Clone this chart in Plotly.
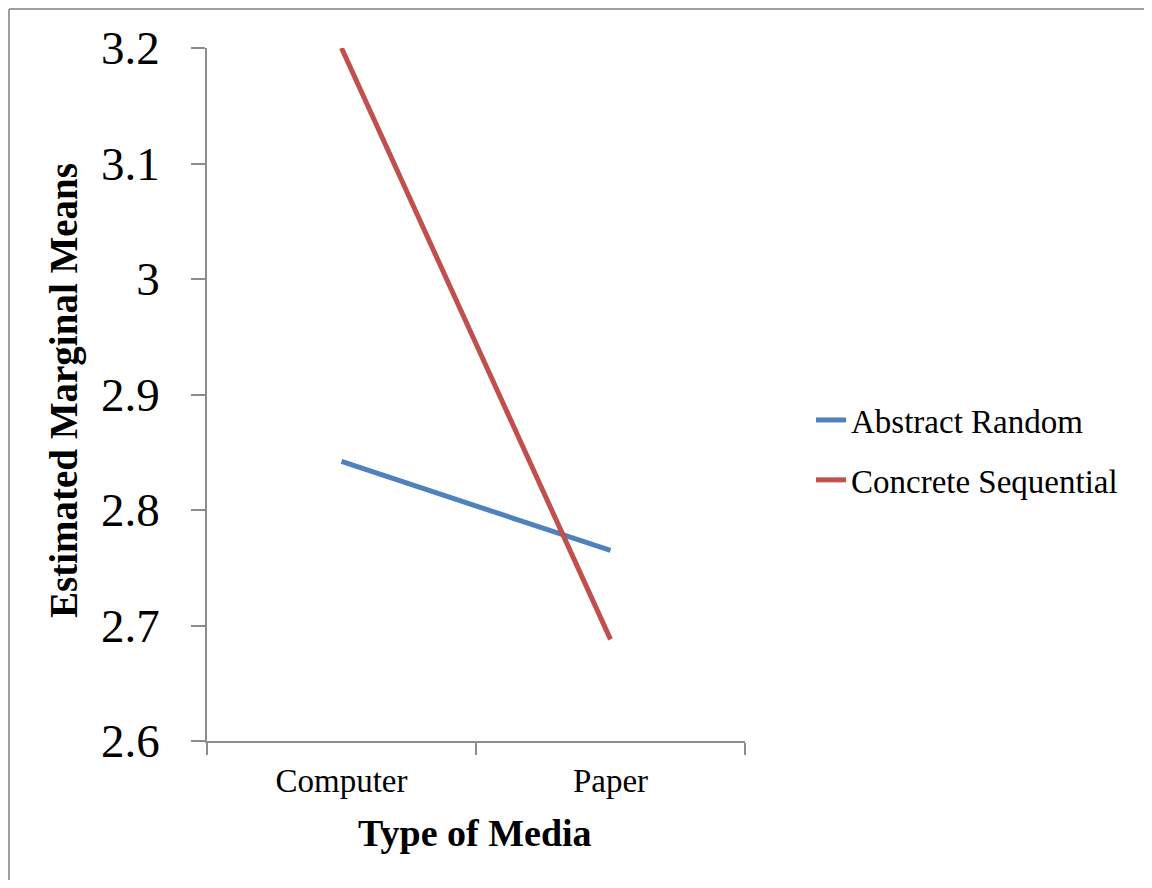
import plotly.graph_objects as go

categories = ["Computer", "Paper"]
abstract_random = [2.842, 2.765]
concrete_sequential = [3.200, 2.688]
y_ticks = [2.6, 2.7, 2.8, 2.9, 3.0, 3.1, 3.2]
y_tick_labels = ["2.6", "2.7", "2.8", "2.9", "3", "3.1", "3.2"]

# page has an 8px body margin, so the figure is drawn smaller and offset
OFF = 8
W, H = 1152 - 2 * OFF, 888 - 2 * OFF
L, R, T, B = 207 - OFF, 745 - OFF, 48 - OFF, 741 - OFF
pw, ph = R - L, B - T

def px(xs):
    return (xs - OFF - L) / pw

def py(ys):
    return (B - (ys - OFF)) / ph

serif = "Liberation Serif"
axis_col = "#8c8c8c"

fig = go.Figure()
fig.add_trace(go.Scatter(
    x=categories, y=abstract_random, mode="lines", name="Abstract Random",
    line=dict(color="#4F81BD", width=5), legendgroup="a"))
fig.add_trace(go.Scatter(
    x=categories, y=concrete_sequential, mode="lines", name="Concrete Sequential",
    line=dict(color="#C0504D", width=5), legendgroup="b"))

fig.update_layout(
    width=W, height=H,
    margin=dict(l=L, r=W - R, t=T, b=H - B, pad=0),
    paper_bgcolor="white", plot_bgcolor="white",
    font=dict(family=serif, color="black"),
    showlegend=True,
    legend=dict(x=px(811), y=py(392), xanchor="left", yanchor="top",
                font=dict(size=33, family=serif), tracegroupgap=14,
                bgcolor="rgba(0,0,0,0)"),
    xaxis=dict(type="category", range=[-0.5, 1.5], tickson="boundaries",
               ticks="outside", ticklen=12, tickwidth=1.5, tickcolor=axis_col,
               showline=True, linecolor=axis_col, linewidth=1.5,
               showgrid=False, zeroline=False,
               tickfont=dict(size=33, family=serif),
               ticklabelstandoff=10),
    yaxis=dict(range=[2.6, 3.2], tickvals=y_ticks, ticktext=y_tick_labels,
               ticks="outside", ticklen=14, tickwidth=1.5, tickcolor=axis_col,
               showline=True, linecolor=axis_col, linewidth=1.5,
               showgrid=False, zeroline=False,
               tickfont=dict(size=47, family=serif),
               ticklabelstandoff=22),
)

fig.add_annotation(text="<b>Type of Media</b>", xref="paper", yref="paper",
                   x=px(475), y=py(833), xanchor="center", yanchor="middle",
                   showarrow=False, font=dict(size=38, family=serif))
fig.add_annotation(text="<b>Estimated Marginal Means</b>", xref="paper", yref="paper",
                   x=px(64), y=py(391), xanchor="center", yanchor="middle",
                   textangle=-90, showarrow=False, font=dict(size=39, family=serif))

# chart border (only top and left edges fall inside the picture)
x_left = (1 - L) / pw
y_top = 1 + (T - 1) / ph
fig.add_shape(type="line", xref="paper", yref="paper",
              x0=x_left, y0=y_top, x1=(W - L) / pw, y1=y_top,
              line=dict(color="#a0a0a0", width=2), layer="below")
fig.add_shape(type="line", xref="paper", yref="paper",
              x0=x_left, y0=y_top, x1=x_left, y1=-(H - B) / ph,
              line=dict(color="#a0a0a0", width=2), layer="below")

fig.write_html("out.html")
